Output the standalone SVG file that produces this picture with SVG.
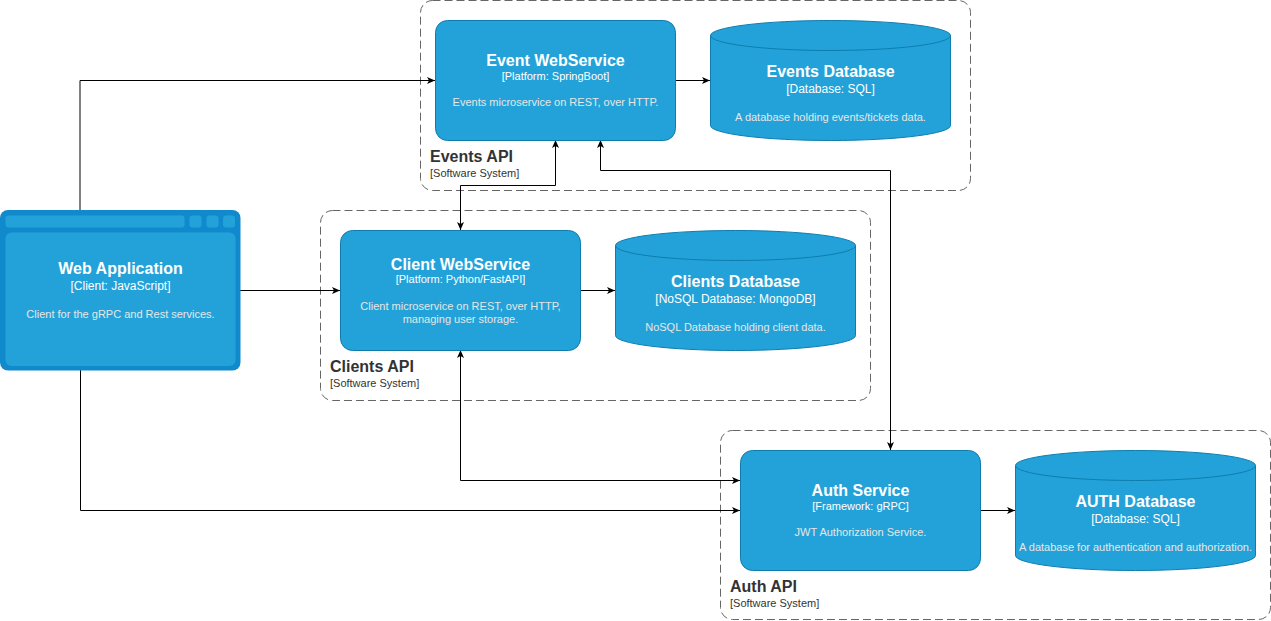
<svg xmlns="http://www.w3.org/2000/svg" width="1271" height="621" viewBox="0 0 1271 621">
<style>
  .bnd{fill:none;stroke:#666666;stroke-width:1;stroke-dasharray:8 4}
  .box{fill:#23A2D9;stroke:#0E7DAD;stroke-width:1}
  .t{font-family:"Liberation Sans",Arial,sans-serif;text-anchor:middle}
  .ttl{font-size:16px;font-weight:bold;fill:#FFFFFF}
  .sub11{font-size:11px;fill:#FFFFFF}
  .sub12{font-size:12px;fill:#FFFFFF}
  .desc{font-size:11px;fill:#E6E6E6}
  .bl{font-family:"Liberation Sans",Arial,sans-serif;fill:#333333}
  .bt{font-size:16px;font-weight:bold}
  .bs{font-size:11px}
  .edge{fill:none;stroke:#000000;stroke-width:1}
</style>
<defs>
  <marker id="arr" viewBox="0 0 8 8" refX="8" refY="4" markerWidth="8" markerHeight="8" markerUnits="userSpaceOnUse" orient="auto-start-reverse">
    <path d="M0,0.5 L8,4 L0,7.5 L2,4 Z" fill="#000000"/>
  </marker>
</defs>
<rect width="1271" height="621" fill="#FFFFFF"/>

<g id="events-api">
  <rect class="bnd" x="420.5" y="0.5" width="550" height="190" rx="12"/>
  <text class="bl bt" x="430" y="162">Events API</text>
  <text class="bl bs" x="430" y="177">[Software System]</text>
</g>
<g id="clients-api">
  <rect class="bnd" x="320.5" y="210.5" width="550" height="190" rx="12"/>
  <text class="bl bt" x="330" y="372">Clients API</text>
  <text class="bl bs" x="330" y="387">[Software System]</text>
</g>
<g id="auth-api">
  <rect class="bnd" x="720.5" y="430.5" width="550" height="189" rx="12"/>
  <text class="bl bt" x="730" y="592">Auth API</text>
  <text class="bl bs" x="730" y="607">[Software System]</text>
</g>

<g id="connectors">
  <path class="edge" d="M80,210 V80.5 H435" marker-end="url(#arr)"/>
  <path class="edge" d="M240,290.5 H340" marker-end="url(#arr)"/>
  <path class="edge" d="M80.5,370 V510.5 H740" marker-end="url(#arr)"/>
  <path class="edge" d="M675,80.5 H710" marker-end="url(#arr)"/>
  <path class="edge" d="M580,290.5 H615" marker-end="url(#arr)"/>
  <path class="edge" d="M980,510.5 H1015" marker-end="url(#arr)"/>
  <path class="edge" d="M555.5,140 V185.5 H460.5 V230" marker-start="url(#arr)" marker-end="url(#arr)"/>
  <path class="edge" d="M600.5,140 V170.5 H890.5 V450" marker-start="url(#arr)" marker-end="url(#arr)"/>
  <path class="edge" d="M460.5,350 V480.5 H740" marker-start="url(#arr)" marker-end="url(#arr)"/>
</g>

<g id="web-application">
  <rect x="0" y="210" width="240.5" height="160.5" rx="8" fill="#118ACD"/>
  <rect x="5.5" y="215.5" width="179" height="12" rx="3" fill="#23A2D9"/>
  <rect x="189.5" y="215.5" width="12" height="12" rx="3" fill="#23A2D9"/>
  <rect x="206.5" y="215.5" width="12" height="12" rx="3" fill="#23A2D9"/>
  <rect x="223" y="215.5" width="12" height="12" rx="3" fill="#23A2D9"/>
  <rect x="5.5" y="232.5" width="230" height="133.5" rx="6" fill="#23A2D9"/>
  <text class="t ttl" x="120.5" y="273.5">Web Application</text>
  <text class="t sub12" x="120.5" y="290">[Client: JavaScript]</text>
  <text class="t desc" x="120.5" y="318">Client for the gRPC and Rest services.</text>
</g>

<g id="event-webservice">
  <rect class="box" x="435.5" y="20.5" width="240" height="120" rx="12"/>
  <text class="t ttl" x="555.5" y="66">Event WebService</text>
  <text class="t sub11" x="555.5" y="79.5">[Platform: SpringBoot]</text>
  <text class="t desc" x="555.5" y="106">Events microservice on REST, over HTTP.</text>
</g>

<g id="events-database">
  <path class="box" d="M710.5,35.5 A120,15 0 0 1 950.5,35.5 V125.5 A120,15 0 0 1 710.5,125.5 Z"/>
  <path d="M710.5,35.5 A120,15 0 0 0 950.5,35.5" fill="none" stroke="#0E7DAD"/>
  <text class="t ttl" x="830.5" y="77">Events Database</text>
  <text class="t sub12" x="830.5" y="93">[Database: SQL]</text>
  <text class="t desc" x="830.5" y="121">A database holding events/tickets data.</text>
</g>

<g id="client-webservice">
  <rect class="box" x="340.5" y="230.5" width="240" height="120" rx="12"/>
  <text class="t ttl" x="460.5" y="269.5">Client WebService</text>
  <text class="t sub11" x="460.5" y="283">[Platform: Python/FastAPI]</text>
  <text class="t desc" x="460.5" y="309.5">Client microservice on REST, over HTTP,</text>
  <text class="t desc" x="460.5" y="322.5">managing user storage.</text>
</g>

<g id="clients-database">
  <path class="box" d="M615.5,245.5 A120,15 0 0 1 855.5,245.5 V335.5 A120,15 0 0 1 615.5,335.5 Z"/>
  <path d="M615.5,245.5 A120,15 0 0 0 855.5,245.5" fill="none" stroke="#0E7DAD"/>
  <text class="t ttl" x="735.5" y="287">Clients Database</text>
  <text class="t sub12" x="735.5" y="303">[NoSQL Database: MongoDB]</text>
  <text class="t desc" x="735.5" y="331">NoSQL Database holding client data.</text>
</g>

<g id="auth-service">
  <rect class="box" x="740.5" y="450.5" width="240" height="120" rx="12"/>
  <text class="t ttl" x="860.5" y="496">Auth Service</text>
  <text class="t sub11" x="860.5" y="509.5">[Framework: gRPC]</text>
  <text class="t desc" x="860.5" y="536">JWT Authorization Service.</text>
</g>

<g id="auth-database">
  <path class="box" d="M1015.5,465.5 A120,15 0 0 1 1255.5,465.5 V555.5 A120,15 0 0 1 1015.5,555.5 Z"/>
  <path d="M1015.5,465.5 A120,15 0 0 0 1255.5,465.5" fill="none" stroke="#0E7DAD"/>
  <text class="t ttl" x="1135.5" y="507">AUTH Database</text>
  <text class="t sub12" x="1135.5" y="523">[Database: SQL]</text>
  <text class="t desc" x="1135.5" y="551">A database for authentication and authorization.</text>
</g>
</svg>
